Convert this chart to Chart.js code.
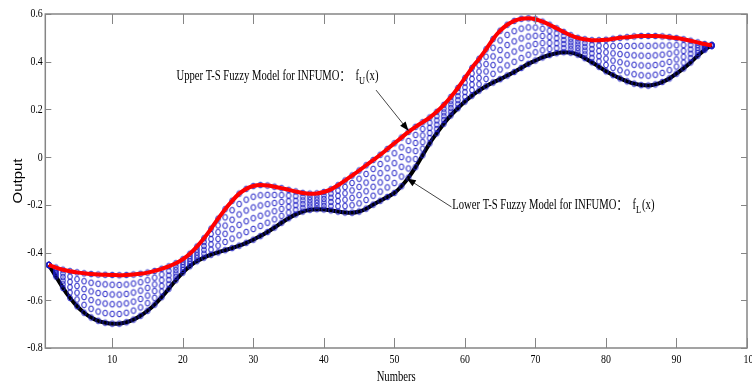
<!DOCTYPE html>
<html>
<head>
<meta charset="utf-8">
<script src="https://cdn.jsdelivr.net/npm/chart.js@4.4.1/dist/chart.umd.min.js"></script>
<style>
  html, body { margin: 0; padding: 0; background: #fff; overflow: hidden; }
  #grafico { display: block; }
</style>
</head>
<body>
<canvas id="grafico" width="752" height="389"></canvas>
<script>
// sample numbers (x axis)
const numbers = [
  1, 2, 3, 4, 5, 6, 7, 8, 9, 10, 11, 12, 13, 14, 15, 16, 17, 18, 19, 20,
  21, 22, 23, 24, 25, 26, 27, 28, 29, 30, 31, 32, 33, 34, 35, 36, 37, 38, 39, 40,
  41, 42, 43, 44, 45, 46, 47, 48, 49, 50, 51, 52, 53, 54, 55, 56, 57, 58, 59, 60,
  61, 62, 63, 64, 65, 66, 67, 68, 69, 70, 71, 72, 73, 74, 75, 76, 77, 78, 79, 80,
  81, 82, 83, 84, 85, 86, 87, 88, 89, 90, 91, 92, 93, 94, 95
];

// upper T-S fuzzy model output f_U(x)
const upperOutput = [
  -0.452, -0.463, -0.472, -0.478, -0.483, -0.487, -0.490, -0.492, -0.493, -0.494,
  -0.495, -0.494, -0.492, -0.489, -0.484, -0.477, -0.468, -0.458, -0.445, -0.428,
  -0.405, -0.375, -0.340, -0.300, -0.258, -0.218, -0.183, -0.153, -0.133, -0.121,
  -0.117, -0.119, -0.124, -0.130, -0.137, -0.144, -0.150, -0.153, -0.152, -0.146,
  -0.135, -0.118, -0.098, -0.077, -0.056, -0.034, -0.012, 0.010, 0.034, 0.058,
  0.082, 0.106, 0.127, 0.146, 0.166, 0.190, 0.219, 0.252, 0.290, 0.332,
  0.374, 0.412, 0.452, 0.495, 0.530, 0.555, 0.571, 0.580, 0.582, 0.578,
  0.568, 0.555, 0.540, 0.525, 0.511, 0.500, 0.494, 0.490, 0.490, 0.492,
  0.496, 0.500, 0.503, 0.506, 0.508, 0.508, 0.508, 0.506, 0.503, 0.499,
  0.494, 0.488, 0.481, 0.474, 0.468
];

// lower T-S fuzzy model output f_L(x)
const lowerOutput = [
  -0.452, -0.500, -0.548, -0.590, -0.625, -0.652, -0.672, -0.686, -0.694, -0.698,
  -0.698, -0.692, -0.681, -0.665, -0.644, -0.618, -0.587, -0.552, -0.516, -0.484,
  -0.457, -0.436, -0.421, -0.409, -0.399, -0.390, -0.381, -0.371, -0.359, -0.346,
  -0.331, -0.314, -0.295, -0.275, -0.256, -0.240, -0.228, -0.221, -0.218, -0.219,
  -0.223, -0.228, -0.232, -0.233, -0.228, -0.216, -0.199, -0.183, -0.167, -0.150,
  -0.122, -0.086, -0.042, 0.008, 0.058, 0.100, 0.140, 0.175, 0.205, 0.233,
  0.258, 0.279, 0.297, 0.313, 0.327, 0.342, 0.357, 0.374, 0.391, 0.405,
  0.418, 0.428, 0.436, 0.440, 0.438, 0.430, 0.415, 0.398, 0.379, 0.360,
  0.344, 0.330, 0.318, 0.308, 0.302, 0.300, 0.305, 0.315, 0.330, 0.350,
  0.372, 0.397, 0.425, 0.450, 0.468
];

// levels of the circles inside the band (0 = lower, 1 = upper)
const bandLevels = [0, 0.2, 0.4, 0.6, 0.8, 1];

// tick labels
const xTicks = [10, 20, 30, 40, 50, 60, 70, 80, 90, 100];
const yTicks = [-0.8, -0.6, -0.4, -0.2, 0, 0.2, 0.4, 0.6];

// horizontal squeeze of every text of the picture
const SQ = 0.76;

// points of the two lines
let upperPts = upperOutput.map((v, i) => ({ x: numbers[i], y: v }));
let lowerPts = lowerOutput.map((v, i) => ({ x: numbers[i], y: v }));

// circles between lower and upper for each number
let bandPts = [];
numbers.forEach((n, i) => {
  bandLevels.forEach((a) => {
    bandPts.push({ x: n, y: lowerOutput[i] + a * (upperOutput[i] - lowerOutput[i]) });
  });
});

// small elliptic circle used as point style
const circulo = document.createElement("canvas");
circulo.width = 8;
circulo.height = 10;
let cctx = circulo.getContext("2d");
cctx.strokeStyle = "#1c1cc4";
cctx.lineWidth = 1;
cctx.beginPath();
cctx.ellipse(4, 5, 2.3, 2.9, 0, 0, Math.PI * 2);
cctx.stroke();

// draws a text squeezed horizontally, returns its width
function squeezedText(ctx, text, x, y, font, align, baseline) {
  ctx.save();
  ctx.translate(x, y);
  ctx.scale(SQ, 1);
  ctx.font = font;
  ctx.textAlign = align;
  ctx.textBaseline = baseline;
  ctx.fillStyle = "#000";
  ctx.fillText(text, 0, 0);
  let w = ctx.measureText(text).width * SQ;
  ctx.restore();
  return w;
}

// annotation: main text + f with subscript
function drawLabel(ctx, x, y, main, sub) {
  const f = "14px 'Liberation Serif', 'Noto Sans CJK SC'";
  let px = x;
  px += squeezedText(ctx, main + "：  f", px, y, f, "left", "middle");
  px += squeezedText(ctx, sub, px, y + 5, "11px 'Liberation Serif'", "left", "middle");
  squeezedText(ctx, "(x)", px + 1, y, f, "left", "middle");
}

// arrow from tail to tip
function drawArrow(ctx, x1, y1, x2, y2) {
  let ang = Math.atan2(y2 - y1, x2 - x1);
  ctx.save();
  ctx.strokeStyle = "#444";
  ctx.lineWidth = 1;
  ctx.beginPath();
  ctx.moveTo(x1, y1);
  ctx.lineTo(x2, y2);
  ctx.stroke();
  ctx.fillStyle = "#000";
  ctx.beginPath();
  ctx.moveTo(x2, y2);
  ctx.lineTo(x2 - 9 * Math.cos(ang) + 3.5 * Math.sin(ang), y2 - 9 * Math.sin(ang) - 3.5 * Math.cos(ang));
  ctx.lineTo(x2 - 9 * Math.cos(ang) - 3.5 * Math.sin(ang), y2 - 9 * Math.sin(ang) + 3.5 * Math.cos(ang));
  ctx.closePath();
  ctx.fill();
  ctx.restore();
}

// box, inner ticks, tick labels, titles and annotations
const ejes = {
  id: "ejes",
  afterDraw(chart) {
    const ctx = chart.ctx;
    const a = chart.chartArea;
    const sx = chart.scales.x;
    const sy = chart.scales.y;
    const serif = "13px 'Liberation Serif'";

    ctx.save();
    ctx.strokeStyle = "#858585";
    ctx.lineWidth = 1.5;
    ctx.strokeRect(a.left, a.top, a.right - a.left, a.bottom - a.top);

    ctx.lineWidth = 1;
    ctx.beginPath();
    xTicks.forEach((t) => {
      let px = Math.round(sx.getPixelForValue(t)) + 0.5;
      ctx.moveTo(px, a.bottom);
      ctx.lineTo(px, a.bottom - 10);
      ctx.moveTo(px, a.top);
      ctx.lineTo(px, a.top + 10);
    });
    yTicks.forEach((t) => {
      let py = Math.round(sy.getPixelForValue(t)) + 0.5;
      ctx.moveTo(a.left, py);
      ctx.lineTo(a.left + 6, py);
      ctx.moveTo(a.right, py);
      ctx.lineTo(a.right - 6, py);
    });
    ctx.stroke();
    ctx.restore();

    // tick labels
    xTicks.forEach((t) => {
      let px = sx.getPixelForValue(t);
      if (t === 100) px += 4; // last label runs off the picture
      squeezedText(ctx, String(t), px, a.bottom + 12, serif, "center", "middle");
    });
    yTicks.forEach((t) => {
      let txt = String(Math.round(t * 10) / 10);
      squeezedText(ctx, txt, a.left - 2.5, sy.getPixelForValue(t), serif, "right", "middle");
    });

    // axis titles
    squeezedText(ctx, "Numbers", (a.left + a.right) / 2, 377, "14px 'Liberation Serif'", "center", "middle");
    ctx.save();
    ctx.translate(18, (a.top + a.bottom) / 2);
    ctx.scale(0.85, 1);
    ctx.rotate(-Math.PI / 2);
    ctx.font = "15px 'Liberation Sans'";
    ctx.textAlign = "center";
    ctx.textBaseline = "middle";
    ctx.fillStyle = "#000";
    ctx.fillText("Output", 0, 0);
    ctx.restore();

    // annotations with arrows
    drawArrow(ctx, sx.getPixelForValue(47.4), sy.getPixelForValue(0.281),
      sx.getPixelForValue(52.0), sy.getPixelForValue(0.111));
    drawLabel(ctx, sx.getPixelForValue(19.1), sy.getPixelForValue(0.34), "Upper T-S Fuzzy Model for INFUMO", "U");
    drawArrow(ctx, sx.getPixelForValue(58.1), sy.getPixelForValue(-0.209),
      sx.getPixelForValue(51.76), sy.getPixelForValue(-0.089));
    drawLabel(ctx, sx.getPixelForValue(58.2), sy.getPixelForValue(-0.2), "Lower T-S Fuzzy Model for INFUMO", "L");
  },
};

new Chart(document.getElementById("grafico"), {
  type: "line",
  data: {
    datasets: [
      {
        label: "upper",
        data: upperPts,
        borderColor: "#ff0000",
        borderWidth: 4,
        pointRadius: 0,
        cubicInterpolationMode: "monotone",
      },
      {
        type: "scatter",
        label: "band",
        data: bandPts,
        pointStyle: circulo,
        pointRadius: 3,
        showLine: false,
      },
      {
        label: "lower",
        data: lowerPts,
        borderColor: "#000000",
        borderWidth: 4,
        pointRadius: 0,
        cubicInterpolationMode: "monotone",
      },
    ],
  },
  options: {
    responsive: false,
    animation: false,
    layout: { padding: { top: 14, right: 2.7, left: 0, bottom: 0 } },
    plugins: {
      legend: { display: false },
      tooltip: { enabled: false },
    },
    scales: {
      x: {
        type: "linear",
        min: 0.5,
        max: 100,
        grid: { display: false },
        border: { display: false },
        ticks: { display: false },
        afterFit: (s) => { s.height = 41; },
      },
      y: {
        min: -0.8,
        max: 0.6,
        grid: { display: false },
        border: { display: false },
        ticks: { display: false },
        afterFit: (s) => { s.width = 45.3; },
      },
    },
  },
  plugins: [ejes],
});
</script>
</body>
</html>
